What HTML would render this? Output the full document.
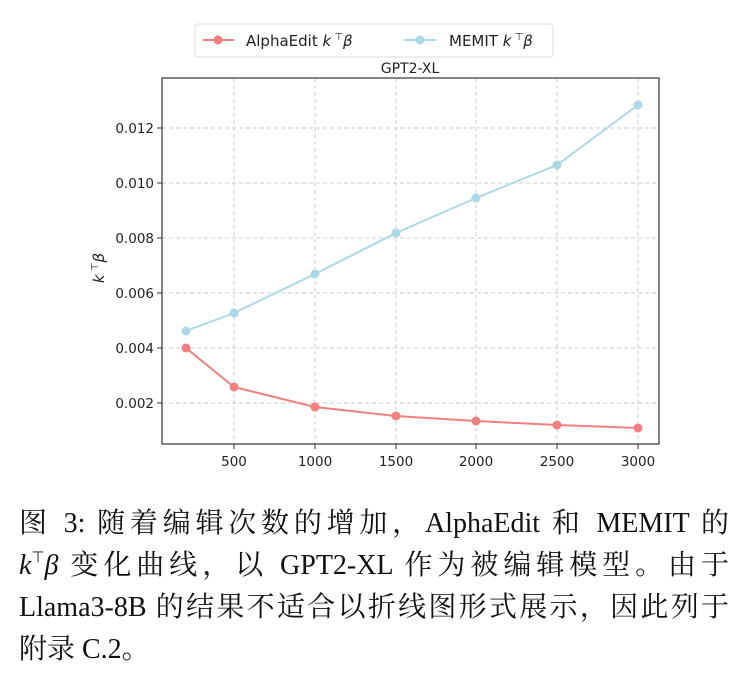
<!DOCTYPE html>
<html><head><meta charset="utf-8"><style>
body{margin:0;width:746px;height:684px;background:#fff;position:relative;overflow:hidden}
.cap{position:absolute;left:19px;width:710px;height:32px;font-family:"Liberation Serif","Noto Serif CJK SC",serif;font-size:28px;line-height:32px;color:#111;text-align:justify;text-align-last:justify;white-space:nowrap}
.cap sup{font-size:15px;line-height:0;vertical-align:12px}
</style></head><body>
<svg width="746" height="500" style="position:absolute;left:0;top:0" font-family="'DejaVu Sans',sans-serif">
<rect x="195" y="24" width="358" height="33" rx="3" fill="#fff" stroke="#ddd"/>
<line x1="203" y1="40" x2="234" y2="40" stroke="#f08080" stroke-width="2"/><circle cx="218" cy="40" r="4.5" fill="#f08080"/>
<text x="246" y="46" font-size="15" fill="#222">AlphaEdit <tspan font-style="italic">k</tspan><tspan font-size="10" dy="-6"> ⊤</tspan><tspan dy="6" font-style="italic">β</tspan></text>
<line x1="404" y1="40" x2="436" y2="40" stroke="#add8e6" stroke-width="2"/><circle cx="420" cy="40" r="4.5" fill="#add8e6"/>
<text x="449" y="46" font-size="15" fill="#222">MEMIT <tspan font-style="italic">k</tspan><tspan font-size="10" dy="-6"> ⊤</tspan><tspan dy="6" font-style="italic">β</tspan></text>
<text x="410" y="73" font-size="14" text-anchor="middle" fill="#222">GPT2-XL</text>
<g stroke="#ccc" stroke-dasharray="4,3" stroke-width="1">
<line x1="234" y1="78" x2="234" y2="444"/><line x1="315" y1="78" x2="315" y2="444"/><line x1="396" y1="78" x2="396" y2="444"/><line x1="476" y1="78" x2="476" y2="444"/><line x1="557" y1="78" x2="557" y2="444"/><line x1="638" y1="78" x2="638" y2="444"/>
<line x1="162" y1="403" x2="659" y2="403"/><line x1="162" y1="348" x2="659" y2="348"/><line x1="162" y1="293" x2="659" y2="293"/><line x1="162" y1="238" x2="659" y2="238"/><line x1="162" y1="183" x2="659" y2="183"/><line x1="162" y1="128" x2="659" y2="128"/>
</g>
<rect x="162" y="78" width="497" height="366" fill="none" stroke="#333" stroke-width="1.2"/>
<g stroke="#333"><line x1="234" y1="444" x2="234" y2="449"/><line x1="315" y1="444" x2="315" y2="449"/><line x1="396" y1="444" x2="396" y2="449"/><line x1="476" y1="444" x2="476" y2="449"/><line x1="557" y1="444" x2="557" y2="449"/><line x1="638" y1="444" x2="638" y2="449"/>
<line x1="157" y1="403" x2="162" y2="403"/><line x1="157" y1="348" x2="162" y2="348"/><line x1="157" y1="293" x2="162" y2="293"/><line x1="157" y1="238" x2="162" y2="238"/><line x1="157" y1="183" x2="162" y2="183"/><line x1="157" y1="128" x2="162" y2="128"/></g>
<g font-size="13.5" fill="#222" text-anchor="middle"><text x="234" y="466">500</text><text x="315" y="466">1000</text><text x="396" y="466">1500</text><text x="476" y="466">2000</text><text x="557" y="466">2500</text><text x="638" y="466">3000</text></g>
<g font-size="13.5" fill="#222" text-anchor="end"><text x="154" y="408">0.002</text><text x="154" y="353">0.004</text><text x="154" y="298">0.006</text><text x="154" y="243">0.008</text><text x="154" y="188">0.010</text><text x="154" y="133">0.012</text></g>
<text transform="translate(104,268) rotate(-90)" font-size="15" fill="#222" text-anchor="middle"><tspan font-style="italic">k</tspan><tspan font-size="10" dy="-6"> ⊤</tspan><tspan dy="6" font-style="italic">β</tspan></text>
<polyline fill="none" stroke="#add8e6" stroke-width="2" points="186,331 234,313 315,274 396,233 476,198 557,165 638,105"/>
<g fill="#add8e6"><circle cx="186" cy="331" r="4.5"/><circle cx="234" cy="313" r="4.5"/><circle cx="315" cy="274" r="4.5"/><circle cx="396" cy="233" r="4.5"/><circle cx="476" cy="198" r="4.5"/><circle cx="557" cy="165" r="4.5"/><circle cx="638" cy="105" r="4.5"/></g>
<polyline fill="none" stroke="#f08080" stroke-width="2" points="186,348 234,387 315,407 396,416 476,421 557,425 638,428"/>
<g fill="#f08080"><circle cx="186" cy="348" r="4.5"/><circle cx="234" cy="387" r="4.5"/><circle cx="315" cy="407" r="4.5"/><circle cx="396" cy="416" r="4.5"/><circle cx="476" cy="421" r="4.5"/><circle cx="557" cy="425" r="4.5"/><circle cx="638" cy="428" r="4.5"/></g>
</svg>
<div class="cap" style="top:508px">图 3: 随着编辑次数的增加，AlphaEdit 和 MEMIT 的</div>
<div class="cap" style="top:550px"><i>k</i><sup>⊤</sup><i>β</i> 变化曲线，以 GPT2-XL 作为被编辑模型。由于</div>
<div class="cap" style="top:592px">Llama3-8B 的结果不适合以折线图形式展示，因此列于</div>
<div class="cap" style="top:634px;text-align-last:left">附录 C.2。</div>
</body></html>
